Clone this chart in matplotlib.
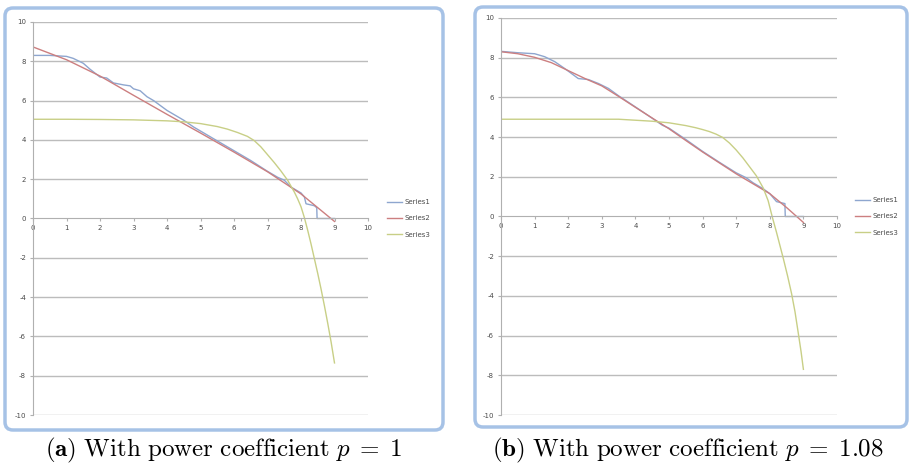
import matplotlib
matplotlib.use("Agg")
import matplotlib.pyplot as plt
from matplotlib.patches import FancyBboxPatch

plt.rcParams['axes.unicode_minus'] = False
plt.rcParams['mathtext.fontset'] = 'cm'

# ---- p = 1 ----
a_s1_x = [0, 0.5, 1.0, 1.2, 1.5, 1.7, 2.0, 2.2, 2.4, 2.7, 2.9, 3.0, 3.2, 3.4, 3.6, 3.8, 4.0, 4.3, 4.5,
          4.8, 5.0, 5.5, 6.0, 6.5, 7.0, 7.3, 7.5, 7.7, 8.0, 8.1, 8.15, 8.4, 8.47, 8.48, 9.0]
a_s1_y = [8.3, 8.3, 8.25, 8.15, 7.9, 7.6, 7.2, 7.15, 6.9, 6.8, 6.75, 6.6, 6.5, 6.2, 6.0, 5.75, 5.5, 5.2, 5.0,
          4.65, 4.45, 3.95, 3.45, 2.95, 2.4, 2.1, 1.95, 1.6, 1.3, 1.1, 0.75, 0.65, 0.55, 0.0, 0.0]
a_s2_x = [0, 1, 2, 3, 4, 5, 6, 7, 8, 9]
a_s2_y = [8.73, 8.08, 7.25, 6.27, 5.3, 4.35, 3.38, 2.38, 1.25, -0.15]
a_s3_x = [0, 1, 2, 3, 4, 4.5, 5, 5.5, 5.8, 6.1, 6.4, 6.6, 6.8, 7.0, 7.2, 7.4, 7.6, 7.8, 7.9, 8.0,
          8.1, 8.2, 8.3, 8.4, 8.5, 8.6, 8.7, 8.8, 8.9, 9.0]
a_s3_y = [5.05, 5.05, 5.04, 5.02, 4.97, 4.92, 4.83, 4.68, 4.55, 4.38, 4.18, 3.97, 3.65, 3.25, 2.85, 2.42,
          1.95, 1.35, 1.0, 0.6, 0.05, -0.6, -1.3, -2.05, -2.8, -3.6, -4.45, -5.35, -6.3, -7.35]

# ---- p = 1.08 ----
b_s1_x = [0, 0.5, 1.0, 1.3, 1.6, 1.9, 2.1, 2.3, 2.6, 2.9, 3.2, 3.5, 4.0, 4.5, 4.8, 5.0, 5.5, 6.0,
          6.5, 7.0, 7.3, 7.5, 7.8, 8.0, 8.2, 8.45, 8.46, 9.0]
b_s1_y = [8.32, 8.25, 8.2, 8.05, 7.8, 7.45, 7.2, 6.95, 6.9, 6.7, 6.45, 6.08, 5.52, 4.95, 4.6, 4.45, 3.88, 3.28,
          2.73, 2.2, 1.95, 1.7, 1.4, 1.15, 0.75, 0.65, 0.0, 0.0]
b_s2_x = [0, 0.5, 1, 1.5, 2, 2.5, 3, 3.5, 4, 4.5, 5, 5.5, 6, 6.5, 7, 7.5, 8, 8.5, 9]
b_s2_y = [8.3, 8.2, 8.02, 7.75, 7.35, 6.95, 6.58, 6.05, 5.5, 4.96, 4.42, 3.83, 3.25, 2.7, 2.15, 1.65, 1.15,
          0.45, -0.3]
b_s3_x = [0, 1, 2, 3, 3.5, 4, 4.5, 5, 5.5, 5.8, 6.0, 6.2, 6.4, 6.6, 6.8, 7.0, 7.2, 7.4, 7.6, 7.8, 7.95,
          8.07, 8.2, 8.3, 8.4, 8.53, 8.65, 8.75, 8.85, 8.93, 9.0]
b_s3_y = [4.9, 4.9, 4.9, 4.9, 4.9, 4.85, 4.8, 4.72, 4.58, 4.47, 4.38, 4.28, 4.15, 3.98, 3.7, 3.35, 2.95,
          2.5, 2.05, 1.45, 0.8, 0.0, -0.8, -1.45, -2.1, -3.0, -3.9, -4.8, -5.9, -6.8, -7.7]

series_names = ['Series1', 'Series2', 'Series3']
series_colors = ['#8ea6cf', '#cc7f80', '#c8cf86']
captions = [r'$\mathbf{(a)}\ \mathrm{With\ power\ coefficient}\ p\;=\;1$',
            r'$\mathbf{(b)}\ \mathrm{With\ power\ coefficient}\ p\;=\;1.08$']
x_ticks = list(range(0, 11))
y_ticks = list(range(-10, 11, 2))

fig = plt.figure(figsize=(9.09, 4.68), dpi=100)
H = 468


def chart_frame(x0, y0, x1, y1):
    # rounded blue frame around each chart (pixel coords, y from top)
    box = FancyBboxPatch((x0, H - y1), x1 - x0, y1 - y0,
                         boxstyle="round,pad=0,rounding_size=8",
                         transform=None, facecolor='white',
                         edgecolor='#a6c2e6', linewidth=2.5, zorder=-5)
    fig.patches.append(box)


def draw_chart(rect, data, legend_x):
    ax = fig.add_axes(rect)
    ax.set_facecolor('none')
    ax.set_zorder(2)
    for (xs, ys), name, c in zip(data, series_names, series_colors):
        ax.plot(xs, ys, color=c, linewidth=1.0, label=name)
    ax.set_xlim(0, 10)
    ax.set_ylim(-10, 10)
    ax.set_xticks(x_ticks)
    ax.set_yticks(y_ticks)
    for yv in y_ticks:
        if yv != 0:
            ax.axhline(yv, color='#bcbcbc', linewidth=1.0, zorder=0)
    for s in ['top', 'right']:
        ax.spines[s].set_visible(False)
    ax.spines['bottom'].set_position(('data', 0))
    ax.spines['bottom'].set_color('#b0b0b0')
    ax.spines['left'].set_color('#b0b0b0')
    ax.tick_params(axis='both', labelsize=5, colors='#b0b0b0', labelcolor='#4a4a4a',
                   length=2, pad=3, direction='out')
    leg = ax.legend(loc='center left', bbox_to_anchor=(legend_x, 0.5), frameon=False,
                    fontsize=5, handlelength=2.1, handletextpad=0.4,
                    labelspacing=1.45, borderaxespad=0, borderpad=0)
    for t in leg.get_texts():
        t.set_color('#4a4a4a')
    return ax


chart_frame(5, 8, 443, 430)
chart_frame(475, 7, 907, 427)

draw_chart([33 / 909, 1 - 415 / H, 335 / 909, 393 / H],
           [(a_s1_x, a_s1_y), (a_s2_x, a_s2_y), (a_s3_x, a_s3_y)], 1.057)
draw_chart([501 / 909, 1 - 415 / H, 336 / 909, 397 / H],
           [(b_s1_x, b_s1_y), (b_s2_x, b_s2_y), (b_s3_x, b_s3_y)], 1.055)

fig.text(224 / 909, 1 - 450 / H, captions[0], ha='center', va='center', fontsize=18)
fig.text(688 / 909, 1 - 450 / H, captions[1], ha='center', va='center', fontsize=18)

fig.savefig('out.png', dpi=100)
